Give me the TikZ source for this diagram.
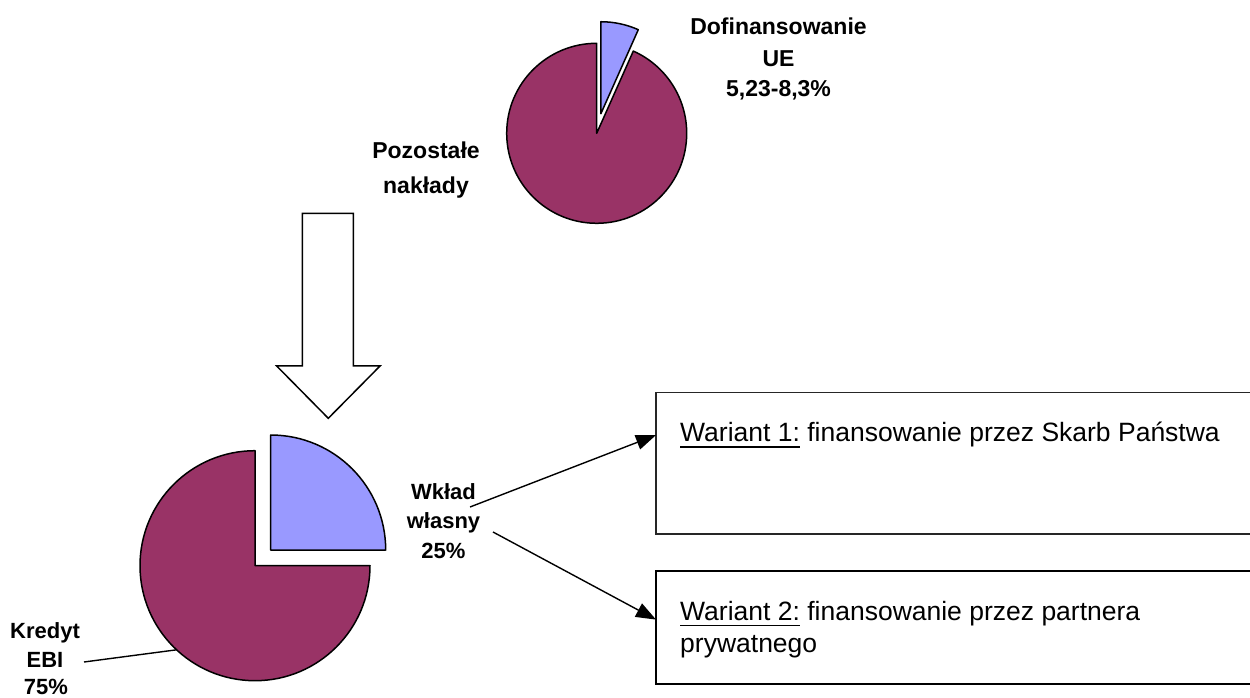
\documentclass[tikz,border=0pt]{standalone}
\usepackage{fontspec}
\setmainfont{Liberation Sans}
\usetikzlibrary{arrows.meta,calc}
\definecolor{piemaroon}{HTML}{993366}
\definecolor{pielav}{HTML}{9999FF}
\newcommand\myul[1]{\setbox0\hbox{#1}\rlap{\rule[-6.3pt]{\wd0}{1.8pt}}\box0\relax}
\begin{document}
\begin{tikzpicture}[x=1pt,y=1pt,
  slice/.style={draw=black,line width=1.5pt,line join=round},
  lblA/.style={font=\bfseries\fontsize{23}{30}\selectfont,inner sep=0pt,anchor=base},
  lblB/.style={font=\bfseries\fontsize{22}{30}\selectfont,inner sep=0pt,anchor=base},
  boxtxt/.style={font=\fontsize{26.5}{32}\selectfont,inner sep=0pt,anchor=base west},
  varbox/.style={draw=black,line width=1.5pt,inner sep=0pt,outer sep=0pt,anchor=north west,minimum width=640pt},
  conn/.style={line width=1.4pt,-{Triangle[length=20pt,width=15pt]}},
  leader/.style={line width=1.4pt}]
\useasboundingbox (0,0) rectangle (1250,697);
\clip (0,0) rectangle (1250,697);
\fill[white] (0,0) rectangle (1250,697);

% top pie
\coordinate (pieA) at (596.7,563.7);
\filldraw[slice,fill=piemaroon] (pieA) -- ++(90:90) arc[start angle=90,end angle=426,radius=90] -- cycle;
\coordinate (pieAs) at ($(pieA)+(78:20)$);
\filldraw[slice,fill=pielav] (pieAs) -- ++(66:92) arc[start angle=66,end angle=90,radius=92] -- cycle;

% bottom pie
\coordinate (pieB) at (255,131.3);
\filldraw[slice,fill=piemaroon] (pieB) -- ++(90:115) arc[start angle=90,end angle=360,radius=115] -- cycle;
\coordinate (pieBs) at ($(pieB)+(15.7,15.7)$);
\filldraw[slice,fill=pielav] (pieBs) -- ++(0:115) arc[start angle=0,end angle=90,radius=115] -- cycle;

% big hollow arrow
\draw[line width=1.5pt,fill=white,line join=miter]
  (302.3,483.7) -- (353.3,483.7) -- (353.3,331) -- (380,331) -- (328.3,278.7)
  -- (276.7,331) -- (302.3,331) -- cycle;

% boxes
\node[varbox,draw=black!85,minimum height=141.3pt] (box1) at (656,304.3) {};
\node[varbox,minimum height=113pt] (box2) at (656,126) {};

\node[boxtxt] (t1) at (680,255.3) {\myul{Wariant 1:} finansowanie przez Skarb Państwa};
\node[boxtxt] (t2a) at (680,77) {\myul{Wariant 2:} finansowanie przez partnera};
\node[boxtxt] (t2b) at (680,45) {prywatnego};

% labels
\node[lblA] (dof1) at (778.5,662) {Dofinansowanie};
\node[lblA] (dof2) at (778.5,630.5) {UE};
\node[lblA] (dof3) at (778.5,600.3) {5,23-8,3\%};

\node[lblA] (poz1) at (426,538.7) {Pozostałe};
\node[lblA] (poz2) at (426,503) {nakłady};

\node[lblB] (wk1) at (443.5,198) {Wkład};
\node[lblB] (wk2) at (443.5,168.7) {własny};
\node[lblB] (wk3) at (443.5,138.7) {25\%};

\node[lblB] (kr1) at (45,58.7) {Kredyt};
\node[lblB] (kr2) at (45,29.7) {EBI};
\node[lblB] (kr3) at (46,3) {75\%};

% connectors
\coordinate (w1) at (470,190);
\coordinate (w2) at (493,165);
\coordinate (k1) at (84,35);
\draw[conn] (w1) -- ($(box1.north west)!0.3!(box1.south west)$);
\draw[conn] (w2) -- ($(box2.north west)!0.43!(box2.south west)$);
\draw[leader] (k1) -- ($(pieB)+(227:115)$);
\end{tikzpicture}
\end{document}
